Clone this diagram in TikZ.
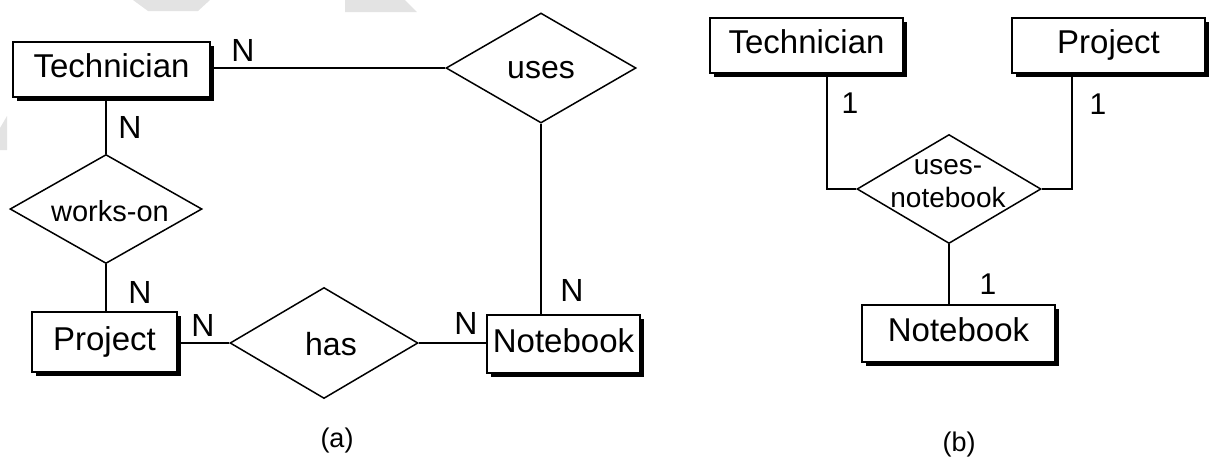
\documentclass[tikz,border=0pt]{standalone}
\usepackage{fontspec}
\setmainfont{Liberation Sans}
\usetikzlibrary{shapes.geometric,shadows}
\tikzset{
  ent/.style={draw, line width=1pt, fill=white, rectangle, inner sep=0pt,
    font=\fontsize{16.5pt}{19pt}\selectfont, text height=11.8pt, text depth=3.4pt,
    drop shadow={shadow xshift=2pt, shadow yshift=-2pt, fill=black, opacity=1}},
  rel/.style={draw, diamond, line width=0.75pt, inner sep=0pt, fill=white},
  reltext/.style={inner sep=0pt, align=center},
  conn/.style={line width=0.8pt},
  card/.style={inner sep=0pt, font=\fontsize{16pt}{19pt}\selectfont},
  one/.style={inner sep=0pt, font=\fontsize{15pt}{17pt}\selectfont},
  captext/.style={inner sep=0pt, font=\fontsize{13.5pt}{16pt}\selectfont},
  wmark/.style={fill=gray!22}
}
\begin{document}
\begin{tikzpicture}[x=0.5pt, y=-0.5pt]
\useasboundingbox (0,0) rectangle (1225,457);
% faint watermark fragments
\fill[wmark] (133,0) -- (210,0) -- (198,11) -- (148,11) -- cycle;
\fill[wmark] (345,0) -- (405,0) -- (417,12) -- (345,12) -- cycle;
\fill[wmark] (0,128) -- (7,116) -- (7,150) -- (0,150) -- cycle;

% ---------- (a) ----------
\node[ent, minimum width=98.5pt, minimum height=27.5pt] (ta) at (111.5,69.5) {Technician};
\node[ent, minimum width=72.5pt, minimum height=30pt] (pa) at (104.5,342) {Project};
\node[ent, minimum width=76.5pt, minimum height=29pt] (na) at (563.5,344) {Notebook};

\node[rel, minimum width=95pt, minimum height=55pt] (uses) at (541,68) {};
\node[reltext, font=\fontsize{16pt}{19pt}\selectfont] (usest) at (541,70) {uses};
\node[rel, minimum width=96pt, minimum height=54.5pt] (wo) at (106,209) {};
\node[reltext, font=\fontsize{14.5pt}{17pt}\selectfont] (wot) at (110,211) {works-on};
\node[rel, minimum width=94pt, minimum height=55.5pt] (has) at (324,343) {};
\node[reltext, font=\fontsize{16pt}{19pt}\selectfont] (hast) at (331,344) {has};

\draw[conn] (uses.west) -- (uses.west -| ta.east);
\draw[conn] (wo.north) -- (wo.north |- ta.south);
\draw[conn] (wo.south) -- (wo.south |- pa.north);
\draw[conn] (has.west) -- (has.west -| pa.east);
\draw[conn] (has.east) -- (has.east -| na.west);
\draw[conn] (uses.south) -- (uses.south |- na.north);

\node[card] (n1) at (243,50) {N};
\node[card] (n2) at (130,127) {N};
\node[card] (n3) at (140,292) {N};
\node[card] (n4) at (203,325) {N};
\node[card] (n5) at (466,323) {N};
\node[card] (n6) at (572,290) {N};

\node[captext] (capa) at (337,440) {(a)};

% ---------- (b) ----------
\node[ent, minimum width=96.5pt, minimum height=27.5pt] (tb) at (806.5,45.5) {Technician};
\node[ent, minimum width=96.5pt, minimum height=27.5pt] (pb) at (1108.5,45.5) {Project};
\node[ent, minimum width=96.5pt, minimum height=28.5pt] (nb) at (958.5,333.5) {Notebook};

\node[rel, minimum width=92pt, minimum height=54.5pt] (ub) at (949,189) {};
\node[reltext, font=\fontsize{14pt}{16.5pt}\selectfont] (ubt) at (948,184) {uses-\\notebook};

\draw[conn] (ub.west) -| ([xshift=10.25pt]tb.south);
\draw[conn] (ub.east) -| ([xshift=-18.25pt]pb.south);
\draw[conn] (ub.south) -- (ub.south |- nb.north);

\node[one] (o1) at (850,103) {1};
\node[one] (o2) at (1098,104) {1};
\node[one] (o3) at (988,284) {1};

\node[captext] (capb) at (959,444) {(b)};
\end{tikzpicture}
\end{document}
